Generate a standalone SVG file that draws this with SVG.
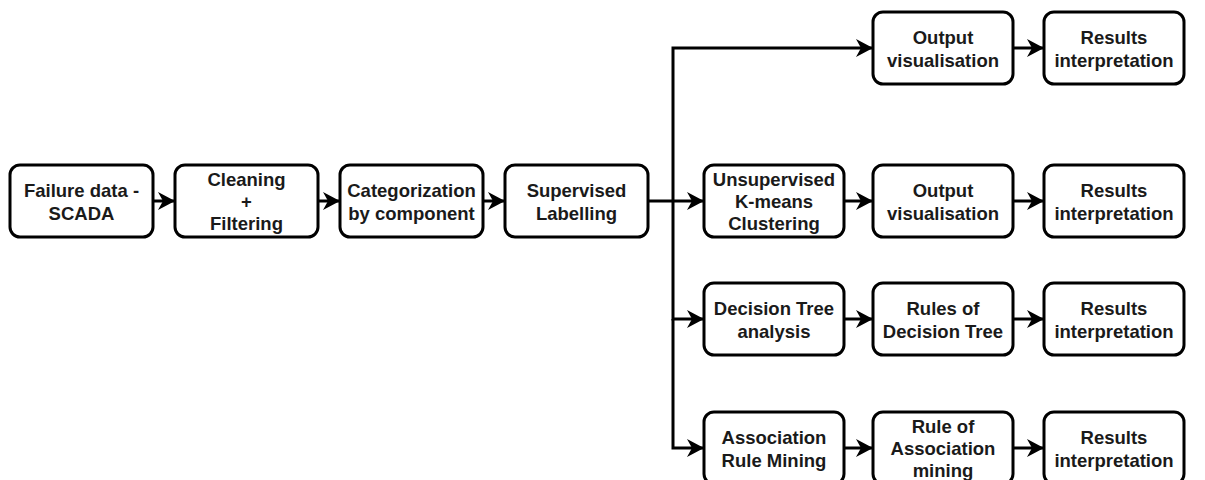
<svg xmlns="http://www.w3.org/2000/svg" width="1205" height="480" viewBox="0 0 1205 480">
<style>
.box{fill:#fff;stroke:#000;stroke-width:3}
.t{font-family:"Liberation Sans",Arial,sans-serif;font-weight:bold;font-size:18.5px;fill:#1a1a1a;text-anchor:middle}
.c{fill:none;stroke:#000;stroke-width:3}
</style>
<defs>
<marker id="ar" markerUnits="userSpaceOnUse" markerWidth="20" markerHeight="20" refX="17" refY="9" orient="auto">
<path d="M0,0 L17,9 L0,18 L5,9 Z" fill="#000"/>
</marker>
</defs>
<g id="connectors">
<path class="c" d="M153,201 L175,201" marker-end="url(#ar)"/>
<path class="c" d="M318,201 L340,201" marker-end="url(#ar)"/>
<path class="c" d="M483,201 L505,201" marker-end="url(#ar)"/>
<path class="c" d="M648,201 L704,201" marker-end="url(#ar)"/>
<path class="c" d="M673,201 L673,48 L873,48" marker-end="url(#ar)"/>
<path class="c" d="M673,201 L673,319 L704,319" marker-end="url(#ar)"/>
<path class="c" d="M673,319 L673,448 L704,448" marker-end="url(#ar)"/>
<path class="c" d="M1013,48 L1044,48" marker-end="url(#ar)"/>
<path class="c" d="M844,201 L873,201" marker-end="url(#ar)"/>
<path class="c" d="M1013,201 L1044,201" marker-end="url(#ar)"/>
<path class="c" d="M844,319 L873,319" marker-end="url(#ar)"/>
<path class="c" d="M1013,319 L1044,319" marker-end="url(#ar)"/>
<path class="c" d="M844,448 L873,448" marker-end="url(#ar)"/>
<path class="c" d="M1013,448 L1044,448" marker-end="url(#ar)"/>
</g>
<g id="n1"><rect class="box" x="10" y="165" width="143" height="72" rx="10"/><text class="t" x="81.5" y="196.5">Failure data -</text><text class="t" x="81.5" y="219.5">SCADA</text></g>
<g id="n2"><rect class="box" x="175" y="165" width="143" height="72" rx="10"/><text class="t" x="246.5" y="186">Cleaning</text><text class="t" x="246.5" y="208">+</text><text class="t" x="246.5" y="230">Filtering</text></g>
<g id="n3"><rect class="box" x="340" y="165" width="143" height="72" rx="10"/><text class="t" x="411.5" y="196.5">Categorization</text><text class="t" x="411.5" y="219.5">by component</text></g>
<g id="n4"><rect class="box" x="505" y="165" width="143" height="72" rx="10"/><text class="t" x="576.5" y="196.5">Supervised</text><text class="t" x="576.5" y="219.5">Labelling</text></g>
<g id="n5"><rect class="box" x="873" y="12" width="140" height="72" rx="10"/><text class="t" x="943" y="43.5">Output</text><text class="t" x="943" y="66.5">visualisation</text></g>
<g id="n6"><rect class="box" x="1044" y="12" width="140" height="72" rx="10"/><text class="t" x="1114" y="43.5">Results</text><text class="t" x="1114" y="66.5">interpretation</text></g>
<g id="n7"><rect class="box" x="704" y="165" width="140" height="72" rx="10"/><text class="t" x="774" y="186">Unsupervised</text><text class="t" x="774" y="208">K-means</text><text class="t" x="774" y="230">Clustering</text></g>
<g id="n8"><rect class="box" x="873" y="165" width="140" height="72" rx="10"/><text class="t" x="943" y="196.5">Output</text><text class="t" x="943" y="219.5">visualisation</text></g>
<g id="n9"><rect class="box" x="1044" y="165" width="140" height="72" rx="10"/><text class="t" x="1114" y="196.5">Results</text><text class="t" x="1114" y="219.5">interpretation</text></g>
<g id="n10"><rect class="box" x="704" y="283" width="140" height="72" rx="10"/><text class="t" x="774" y="314.5">Decision Tree</text><text class="t" x="774" y="337.5">analysis</text></g>
<g id="n11"><rect class="box" x="873" y="283" width="140" height="72" rx="10"/><text class="t" x="943" y="314.5">Rules of</text><text class="t" x="943" y="337.5">Decision Tree</text></g>
<g id="n12"><rect class="box" x="1044" y="283" width="140" height="72" rx="10"/><text class="t" x="1114" y="314.5">Results</text><text class="t" x="1114" y="337.5">interpretation</text></g>
<g id="n13"><rect class="box" x="704" y="412" width="140" height="72" rx="10"/><text class="t" x="774" y="444">Association</text><text class="t" x="774" y="467">Rule Mining</text></g>
<g id="n14"><rect class="box" x="873" y="412" width="140" height="72" rx="10"/><text class="t" x="943" y="433">Rule of</text><text class="t" x="943" y="455">Association</text><text class="t" x="943" y="477">mining</text></g>
<g id="n15"><rect class="box" x="1044" y="412" width="140" height="72" rx="10"/><text class="t" x="1114" y="444">Results</text><text class="t" x="1114" y="467">interpretation</text></g>
</svg>
